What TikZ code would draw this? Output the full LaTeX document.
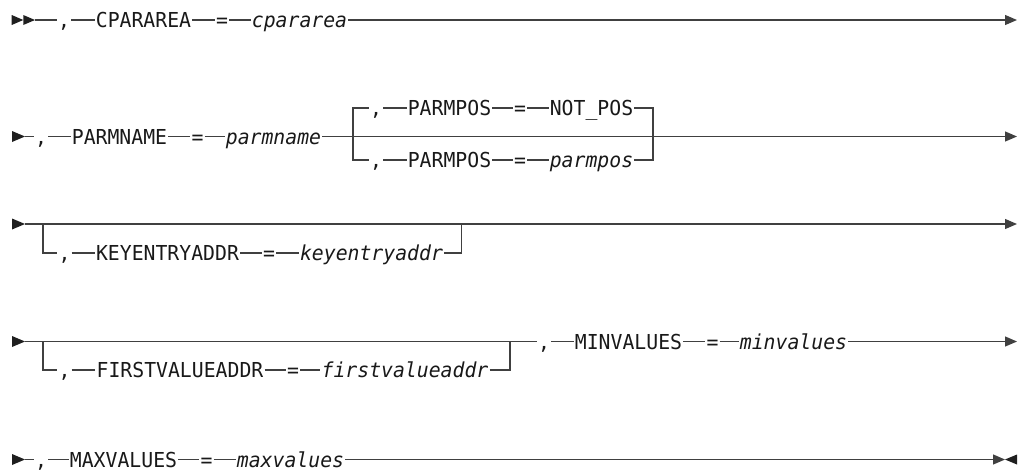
\documentclass[tikz,border=0pt]{standalone}
\usepackage{fontspec}
\setmonofont[FakeStretch=0.96]{DejaVu Sans Mono}
\usetikzlibrary{arrows.meta}
\begin{document}
\begin{tikzpicture}[x=1pt,y=1pt,
  tok/.style={inner xsep=1pt, inner ysep=0pt, anchor=center, text height=15pt, text depth=0pt,
    font=\ttfamily\fontsize{20.6}{21}\selectfont, text=black!90},
  var/.style={tok, font=\ttfamily\itshape\fontsize{20.6}{21}\selectfont},
  rail/.style={line width=1.2pt, draw=black!75},
  endarrow/.style={rail, -{Triangle[length=12pt,width=10pt]}},
  tri/.style={fill=black!88},
]
\useasboundingbox (0,0) rectangle (1019,-469);

% ---------- Row 1 ----------
\coordinate (r1s) at (11.7,-20);
\coordinate (r1m) at (23.3,-20);
\coordinate (r1a) at (35,-20);
\fill[tri] (r1s) -- ++(0,5) -- ++(11.6,-5) -- ++(-11.6,-5) -- cycle;
\fill[tri] (r1m) -- ++(0,5) -- ++(11.7,-5) -- ++(-11.7,-5) -- cycle;
\node[tok] (c1) at (64,-20) {,};
\node[tok] (k1) at (143.5,-20) {CPARAREA};
\node[tok] (e1) at (222,-20) {=};
\node[var] (v1) at (299.5,-20) {cpararea};
\coordinate (r1e) at (1017,-20);
\draw[rail] (r1a) -- (c1) -- (k1) -- (e1) -- (v1);
\draw[endarrow] (v1) -- (r1e);

% ---------- Row 2 ----------
\coordinate (r2s) at (12,-136.5);
\coordinate (r2a) at (25,-136.5);
\fill[tri] (r2s) -- ++(0,5.5) -- ++(13,-5.5) -- ++(-13,-5.5) -- cycle;
\node[tok] (c2) at (41,-136.5) {,};
\node[tok] (k2) at (119.5,-136.5) {PARMNAME};
\node[tok] (e2) at (197.5,-136.5) {=};
\node[var] (v2) at (273.5,-136.5) {parmname};
\coordinate (j2l) at (353,-136.5);
\coordinate (j2r) at (653,-136.5);
\coordinate (r2e) at (1017,-136.5);
\draw[rail] (r2a) -- (c2) -- (k2) -- (e2) -- (v2) -- (j2l) -- (j2r);
\draw[endarrow] (j2r) -- (r2e);
% upper (default) branch
\node[tok] (cu) at (376,-108) {,};
\node[tok] (ku) at (449.5,-108) {PARMPOS};
\node[tok] (eu) at (520,-108) {=};
\node[tok] (vu) at (591.5,-108) {NOT\_POS};
\draw[rail] (j2l) |- (cu);
\draw[rail] (cu) -- (ku) -- (eu) -- (vu);
\draw[rail] (vu) -| (j2r);
% lower branch
\node[tok] (cl) at (376,-160) {,};
\node[tok] (kl) at (449.5,-160) {PARMPOS};
\node[tok] (el) at (520,-160) {=};
\node[var] (vl) at (591.5,-160) {parmpos};
\draw[rail] (j2l) |- (cl);
\draw[rail] (cl) -- (kl) -- (el) -- (vl);
\draw[rail] (vl) -| (j2r);

% ---------- Row 3 ----------
\coordinate (r3s) at (12,-224);
\coordinate (r3a) at (25,-224);
\fill[tri] (r3s) -- ++(0,5.5) -- ++(13,-5.5) -- ++(-13,-5.5) -- cycle;
\coordinate (j3l) at (43,-224);
\coordinate (j3r) at (461.7,-224);
\coordinate (r3e) at (1017,-224);
\draw[rail] (r3a) -- (j3l) -- (j3r);
\draw[endarrow] (j3r) -- (r3e);
\node[tok] (c3) at (64.5,-253) {,};
\node[tok] (k3) at (167.5,-253) {KEYENTRYADDR};
\node[tok] (e3) at (269,-253) {=};
\node[var] (v3) at (371.5,-253) {keyentryaddr};
\draw[rail] (j3l) |- (c3);
\draw[rail] (c3) -- (k3) -- (e3) -- (v3);
\draw[rail] (v3) -| (j3r);

% ---------- Row 4 ----------
\coordinate (r4s) at (12,-341.5);
\coordinate (r4a) at (25,-341.5);
\fill[tri] (r4s) -- ++(0,5.5) -- ++(13,-5.5) -- ++(-13,-5.5) -- cycle;
\coordinate (j4l) at (43,-341.5);
\coordinate (j4r) at (510,-341.5);
\node[tok] (c4) at (64.5,-370) {,};
\node[tok] (k4) at (180,-370) {FIRSTVALUEADDR};
\node[tok] (e4) at (293,-370) {=};
\node[var] (v4) at (405,-370) {firstvalueaddr};
\draw[rail] (j4l) |- (c4);
\draw[rail] (c4) -- (k4) -- (e4) -- (v4);
\draw[rail] (v4) -| (j4r);
\node[tok] (cm) at (544,-341.5) {,};
\node[tok] (km) at (628.5,-341.5) {MINVALUES};
\node[tok] (em) at (712.5,-341.5) {=};
\node[var] (vm) at (793.5,-341.5) {minvalues};
\coordinate (r4e) at (1017,-341.5);
\draw[rail] (r4a) -- (j4l) -- (j4r) -- (cm) -- (km) -- (em) -- (vm);
\draw[endarrow] (vm) -- (r4e);

% ---------- Row 5 ----------
\coordinate (r5s) at (12,-459.5);
\coordinate (r5a) at (25,-459.5);
\fill[tri] (r5s) -- ++(0,5.5) -- ++(13,-5.5) -- ++(-13,-5.5) -- cycle;
\node[tok] (c5) at (41,-459.5) {,};
\node[tok] (k5) at (123.5,-459.5) {MAXVALUES};
\node[tok] (e5) at (206.5,-459.5) {=};
\node[var] (v5) at (290.5,-459.5) {maxvalues};
\coordinate (r5m) at (1005,-459.5);
\coordinate (r5e) at (1017,-459.5);
\draw[rail] (r5a) -- (c5) -- (k5) -- (e5) -- (v5);
\draw[endarrow] (v5) -- (r5m);
\fill[tri] (r5e) -- ++(0,5) -- ++(-12,-5) -- ++(12,-5) -- cycle;

\end{tikzpicture}
\end{document}
